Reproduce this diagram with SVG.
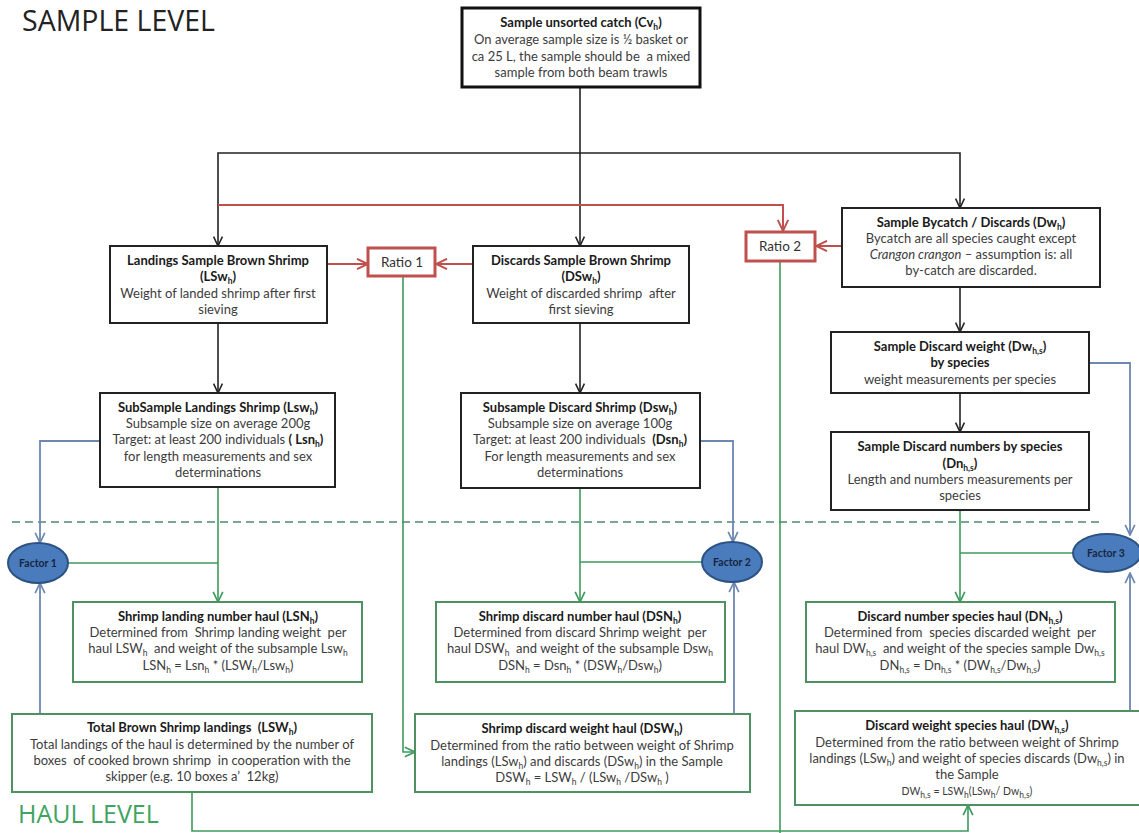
<svg xmlns="http://www.w3.org/2000/svg" width="1139" height="833" viewBox="0 0 1139 833">
<style>
.t{font-family:Lato,"Liberation Sans",sans-serif;font-size:13px;fill:#3c3c3c;text-anchor:middle;white-space:pre}
.b{font-weight:bold;fill:#1a1a1a}
.sub{font-size:8.5px}
.bk{fill:#fff;stroke:#222;stroke-width:2}
.gr{fill:#fff;stroke:#4f9160;stroke-width:2}
.rd{fill:#fff;stroke:#c0504d;stroke-width:3}
.fac{fill:#4a7cbd;stroke:#2c5282;stroke-width:2}
.ft{font-family:Lato,"Liberation Sans",sans-serif;font-size:10.5px;font-weight:bold;fill:#17263f;text-anchor:middle}
.cb{fill:none;stroke:#222;stroke-width:1.6}
.cr{fill:none;stroke:#c0504d;stroke-width:2}
.cg{fill:none;stroke:#3e9a5e;stroke-width:1.6}
.cu{fill:none;stroke:#6c87b2;stroke-width:1.8}
</style>
<defs>
<marker id="ab" viewBox="0 0 10 10" refX="9.5" refY="5" markerWidth="11" markerHeight="11" markerUnits="userSpaceOnUse" orient="auto"><path d="M1,1 L9.5,5 L1,9" fill="none" stroke="#222" stroke-width="1.4"/></marker>
<marker id="ar" viewBox="0 0 10 10" refX="9.5" refY="5" markerWidth="13" markerHeight="13" markerUnits="userSpaceOnUse" orient="auto"><path d="M1,1 L9.5,5 L1,9" fill="none" stroke="#c0504d" stroke-width="1.5"/></marker>
<marker id="ag" viewBox="0 0 10 10" refX="9.5" refY="5" markerWidth="12" markerHeight="12" markerUnits="userSpaceOnUse" orient="auto"><path d="M1,1 L9.5,5 L1,9" fill="none" stroke="#3e9a5e" stroke-width="1.4"/></marker>
<marker id="au" viewBox="0 0 10 10" refX="9.5" refY="5" markerWidth="12" markerHeight="12" markerUnits="userSpaceOnUse" orient="auto"><path d="M1,1 L9.5,5 L1,9" fill="none" stroke="#6c87b2" stroke-width="1.4"/></marker>
</defs>

<text x="22" y="31" style="font-family:'Open Sans','Liberation Sans',sans-serif;font-size:28.5px;fill:#222">SAMPLE LEVEL</text>
<text x="18" y="823" style="font-family:'Open Sans','Liberation Sans',sans-serif;font-size:25px;fill:#3fa45f">HAUL LEVEL</text>
<line x1="12" y1="522" x2="1100" y2="522" stroke="#4e8a6c" stroke-width="1.6" stroke-dasharray="8,5"/>

<g id="connectors">
<path class="cb" d="M580,87 V246" marker-end="url(#ab)"/>
<path class="cb" d="M580,153 H218 V246" marker-end="url(#ab)"/>
<path class="cb" d="M580,153 H960 V208" marker-end="url(#ab)"/>
<path class="cr" d="M218,205 H783 V231" marker-end="url(#ar)"/>
<path class="cr" d="M327,264 H368" marker-end="url(#ar)"/>
<path class="cr" d="M473,264 H436" marker-end="url(#ar)"/>
<path class="cr" d="M842,246 H816" marker-end="url(#ar)"/>
<path class="cb" d="M218,323 V393" marker-end="url(#ab)"/>
<path class="cb" d="M580,323 V393" marker-end="url(#ab)"/>
<path class="cb" d="M960,287 V332" marker-end="url(#ab)"/>
<path class="cb" d="M960,393 V432" marker-end="url(#ab)"/>
<path class="cu" d="M100,441 H40 V543" marker-end="url(#au)"/>
<path class="cu" d="M700,441 H733 V542" marker-end="url(#au)"/>
<path class="cu" d="M1089,363 H1130 V535" marker-end="url(#au)"/>
<path class="cu" d="M40,714 V583" marker-end="url(#au)"/>
<path class="cu" d="M734,714 V582" marker-end="url(#au)"/>
<path class="cu" d="M1130,711 V573" marker-end="url(#au)"/>
<path class="cg" d="M218,487 V602" marker-end="url(#ag)"/>
<path class="cg" d="M68,563 H218"/>
<path class="cg" d="M580,488 V602" marker-end="url(#ag)"/>
<path class="cg" d="M702,562 H580"/>
<path class="cg" d="M960,510 V602" marker-end="url(#ag)"/>
<path class="cg" d="M1074,553 H960"/>
<path class="cg" d="M403,276 V752 H415" marker-end="url(#ag)"/>
<path class="cg" d="M780,261 V833"/>
<path class="cg" d="M192,792 V831 H968 V805" marker-end="url(#ag)"/>
</g>

<g id="n-unsorted">
<rect x="462" y="8" width="238" height="79" fill="#fff" stroke="#111" stroke-width="3"/>
<text class="t b" x="581" y="27">Sample unsorted catch (Cv<tspan class="sub" dy="3">h</tspan><tspan dy="-3">)</tspan></text>
<text class="t" x="581" y="44">On average sample size is ½ basket or</text>
<text class="t" x="581" y="61">ca 25 L, the sample should be  a mixed</text>
<text class="t" x="581" y="77">sample from both beam trawls</text>
</g>

<g id="n-landsample">
<rect class="bk" x="110" y="246" width="217" height="77"/>
<text class="t b" x="218" y="265">Landings Sample Brown Shrimp</text>
<text class="t b" x="218" y="281">(LSw<tspan class="sub" dy="3">h</tspan><tspan dy="-3">)</tspan></text>
<text class="t" x="218" y="298">Weight of landed shrimp after first</text>
<text class="t" x="218" y="314">sieving</text>
</g>

<g id="n-ratio1">
<rect class="rd" x="368" y="248" width="67" height="28"/>
<text class="t" x="402" y="267" style="font-size:13.5px;fill:#333">Ratio 1</text>
</g>

<g id="n-discsample">
<rect class="bk" x="473" y="246" width="216" height="77"/>
<text class="t b" x="581" y="265">Discards Sample Brown Shrimp</text>
<text class="t b" x="581" y="281">(DSw<tspan class="sub" dy="3">h</tspan><tspan dy="-3">)</tspan></text>
<text class="t" x="581" y="298">Weight of discarded shrimp  after</text>
<text class="t" x="581" y="314">first sieving</text>
</g>

<g id="n-ratio2">
<rect class="rd" x="746" y="232" width="69" height="29"/>
<text class="t" x="780" y="251" style="font-size:13.5px;fill:#333">Ratio 2</text>
</g>

<g id="n-bycatch">
<rect class="bk" x="842" y="208" width="258" height="79"/>
<text class="t b" x="971" y="227">Sample Bycatch / Discards (Dw<tspan class="sub" dy="3">h</tspan><tspan dy="-3">)</tspan></text>
<text class="t" x="971" y="243">Bycatch are all species caught except</text>
<text class="t" x="971" y="259"><tspan font-style="italic">Crangon crangon</tspan> – assumption is: all</text>
<text class="t" x="971" y="275">by-catch are discarded.</text>
</g>

<g id="n-discweight">
<rect class="bk" x="831" y="332" width="258" height="61"/>
<text class="t b" x="960" y="351">Sample Discard weight (Dw<tspan class="sub" dy="3">h,s</tspan><tspan dy="-3">)</tspan></text>
<text class="t b" x="960" y="367">by species</text>
<text class="t" x="960" y="384">weight measurements per species</text>
</g>

<g id="n-discnum">
<rect class="bk" x="831" y="432" width="258" height="78"/>
<text class="t b" x="960" y="451">Sample Discard numbers by species</text>
<text class="t b" x="960" y="468">(Dn<tspan class="sub" dy="3">h,s</tspan><tspan dy="-3">)</tspan></text>
<text class="t" x="960" y="484">Length and numbers measurements per</text>
<text class="t" x="960" y="500">species</text>
</g>

<g id="n-sublanding">
<rect class="bk" x="100" y="393" width="235" height="94"/>
<text class="t b" x="218" y="412">SubSample Landings Shrimp (Lsw<tspan class="sub" dy="3">h</tspan><tspan dy="-3">)</tspan></text>
<text class="t" x="218" y="428">Subsample size on average 200g</text>
<text class="t" x="218" y="444">Target: at least 200 individuals <tspan class="b">( Lsn<tspan class="sub" dy="3">h</tspan><tspan dy="-3">)</tspan></tspan></text>
<text class="t" x="218" y="461">for length measurements and sex</text>
<text class="t" x="218" y="477">determinations</text>
</g>

<g id="n-subdiscard">
<rect class="bk" x="461" y="393" width="239" height="95"/>
<text class="t b" x="580" y="412">Subsample Discard Shrimp (Dsw<tspan class="sub" dy="3">h</tspan><tspan dy="-3">)</tspan></text>
<text class="t" x="580" y="428">Subsample size on average 100g</text>
<text class="t" x="580" y="444">Target: at least 200 individuals  <tspan class="b">(Dsn<tspan class="sub" dy="3">h</tspan><tspan dy="-3">)</tspan></tspan></text>
<text class="t" x="580" y="461">For length measurements and sex</text>
<text class="t" x="580" y="477">determinations</text>
</g>

<g id="n-factor1">
<ellipse class="fac" cx="38" cy="563" rx="30" ry="20"/>
<text class="ft" x="38" y="567">Factor 1</text>
</g>
<g id="n-factor2">
<ellipse class="fac" cx="732" cy="562" rx="30" ry="20"/>
<text class="ft" x="732" y="566">Factor 2</text>
</g>
<g id="n-factor3">
<ellipse class="fac" cx="1107" cy="553" rx="34" ry="19"/>
<text class="ft" x="1106" y="557">Factor 3</text>
</g>

<g id="n-lsn">
<rect class="gr" x="73" y="602" width="289" height="80"/>
<text class="t b" x="218" y="621">Shrimp landing number haul (LSN<tspan class="sub" dy="3">h</tspan><tspan dy="-3">)</tspan></text>
<text class="t" x="218" y="637">Determined from  Shrimp landing weight  per</text>
<text class="t" x="218" y="653">haul LSW<tspan class="sub" dy="3">h</tspan><tspan dy="-3">  and weight of the subsample Lsw</tspan><tspan class="sub" dy="3">h</tspan></text>
<text class="t" x="218" y="670">LSN<tspan class="sub" dy="3">h</tspan><tspan dy="-3"> = Lsn</tspan><tspan class="sub" dy="3">h</tspan><tspan dy="-3"> * (LSW</tspan><tspan class="sub" dy="3">h</tspan><tspan dy="-3">/Lsw</tspan><tspan class="sub" dy="3">h</tspan><tspan dy="-3">)</tspan></text>
</g>

<g id="n-totallanding">
<rect class="gr" x="12" y="714" width="360" height="78"/>
<text class="t b" x="192" y="732">Total Brown Shrimp landings  (LSW<tspan class="sub" dy="3">h</tspan><tspan dy="-3">)</tspan></text>
<text class="t" x="192" y="749">Total landings of the haul is determined by the number of</text>
<text class="t" x="192" y="765">boxes  of cooked brown shrimp  in cooperation with the</text>
<text class="t" x="192" y="781">skipper (e.g. 10 boxes a’  12kg)</text>
</g>

<g id="n-dsn">
<rect class="gr" x="436" y="602" width="289" height="80"/>
<text class="t b" x="580" y="621">Shrimp discard number haul (DSN<tspan class="sub" dy="3">h</tspan><tspan dy="-3">)</tspan></text>
<text class="t" x="580" y="637">Determined from discard Shrimp weight  per</text>
<text class="t" x="580" y="653">haul DSW<tspan class="sub" dy="3">h</tspan><tspan dy="-3">  and weight of the subsample Dsw</tspan><tspan class="sub" dy="3">h</tspan></text>
<text class="t" x="580" y="670">DSN<tspan class="sub" dy="3">h</tspan><tspan dy="-3"> = Dsn</tspan><tspan class="sub" dy="3">h</tspan><tspan dy="-3"> * (DSW</tspan><tspan class="sub" dy="3">h</tspan><tspan dy="-3">/Dsw</tspan><tspan class="sub" dy="3">h</tspan><tspan dy="-3">)</tspan></text>
</g>

<g id="n-dsw">
<rect class="gr" x="415" y="714" width="335" height="78"/>
<text class="t b" x="582" y="733">Shrimp discard weight haul (DSW<tspan class="sub" dy="3">h</tspan><tspan dy="-3">)</tspan></text>
<text class="t" x="582" y="750">Determined from the ratio between weight of Shrimp</text>
<text class="t" x="582" y="766">landings (LSw<tspan class="sub" dy="3">h</tspan><tspan dy="-3">) and discards (DSw</tspan><tspan class="sub" dy="3">h</tspan><tspan dy="-3">) in the Sample</tspan></text>
<text class="t" x="582" y="782">DSW<tspan class="sub" dy="3">h</tspan><tspan dy="-3"> = LSW</tspan><tspan class="sub" dy="3">h</tspan><tspan dy="-3"> / (LSw</tspan><tspan class="sub" dy="3">h</tspan><tspan dy="-3"> /DSw</tspan><tspan class="sub" dy="3">h</tspan><tspan dy="-3"> )</tspan></text>
</g>

<g id="n-dn">
<rect class="gr" x="806" y="602" width="309" height="80"/>
<text class="t b" x="960" y="621">Discard number species haul (DN<tspan class="sub" dy="3">h,s</tspan><tspan dy="-3">)</tspan></text>
<text class="t" x="960" y="637">Determined from  species discarded weight  per</text>
<text class="t" x="960" y="653">haul DW<tspan class="sub" dy="3">h,s</tspan><tspan dy="-3">  and weight of the species sample Dw</tspan><tspan class="sub" dy="3">h,s</tspan></text>
<text class="t" x="960" y="670">DN<tspan class="sub" dy="3">h,s</tspan><tspan dy="-3"> = Dn</tspan><tspan class="sub" dy="3">h,s</tspan><tspan dy="-3"> * (DW</tspan><tspan class="sub" dy="3">h,s</tspan><tspan dy="-3">/Dw</tspan><tspan class="sub" dy="3">h,s</tspan><tspan dy="-3">)</tspan></text>
</g>

<g id="n-dw">
<rect class="gr" x="795" y="711" width="350" height="94"/>
<text class="t b" x="967" y="730">Discard weight species haul (DW<tspan class="sub" dy="3">h,s</tspan><tspan dy="-3">)</tspan></text>
<text class="t" x="967" y="747">Determined from the ratio between weight of Shrimp</text>
<text class="t" x="967" y="763">landings (LSw<tspan class="sub" dy="3">h</tspan><tspan dy="-3">) and weight of species discards (Dw</tspan><tspan class="sub" dy="3">h,s</tspan><tspan dy="-3">) in</tspan></text>
<text class="t" x="967" y="779">the Sample</text>
<text class="t" x="967" y="795" style="font-size:10.5px">DW<tspan class="sub" dy="3">h,s</tspan><tspan dy="-3"> = LSW</tspan><tspan class="sub" dy="3">h</tspan><tspan dy="-3">(LSw</tspan><tspan class="sub" dy="3">h</tspan><tspan dy="-3">/ Dw</tspan><tspan class="sub" dy="3">h,s</tspan><tspan dy="-3">)</tspan></text>
</g>
</svg>
